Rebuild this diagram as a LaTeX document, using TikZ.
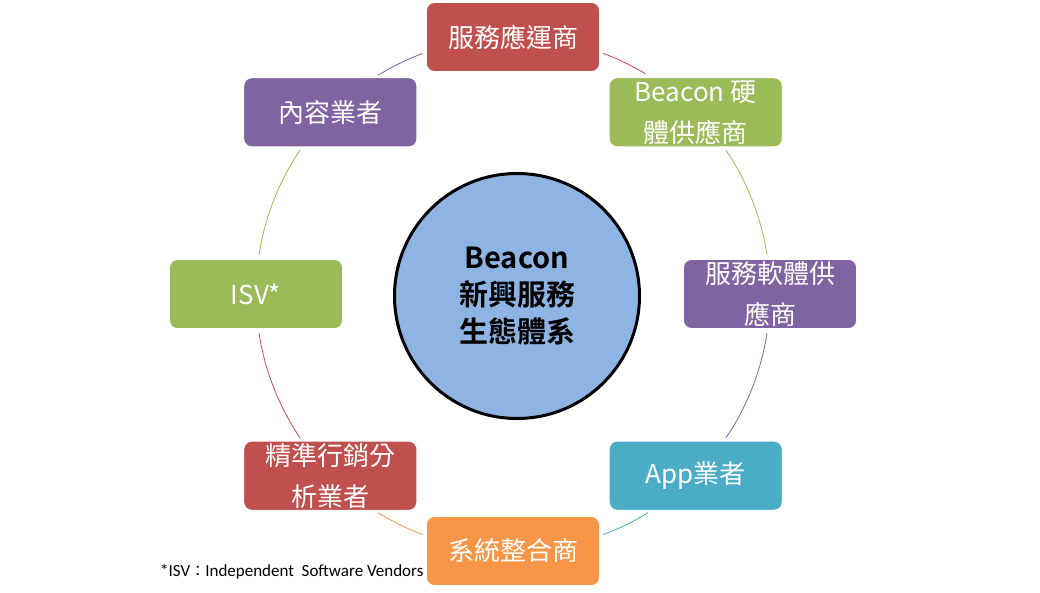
\documentclass[tikz,border=0pt]{standalone}
\usepackage{fontspec}
\newfontfamily\cjk{Noto Sans CJK TC}
\newfontfamily\cjkb{Noto Sans CJK TC Bold}
\newfontfamily\notefont{Carlito}
\usetikzlibrary{backgrounds}
\definecolor{cred}{HTML}{C0504D}
\definecolor{cgreen}{HTML}{9BBB59}
\definecolor{cpurple}{HTML}{8064A2}
\definecolor{cteal}{HTML}{4BACC6}
\definecolor{corange}{HTML}{F79646}
\definecolor{cblue}{HTML}{8DB4E2}
\tikzset{
  partbox/.style={rectangle, rounded corners=8pt, minimum width=173pt, minimum height=69pt,
    inner sep=0pt, draw=white, line width=0.8pt, text=white, align=center,
    font=\cjk\fontsize{26}{41}\selectfont},
  ringarc/.style={line width=0.8pt},
  hub/.style={circle, draw=black, line width=3pt, fill=cblue, minimum size=245pt, inner sep=0pt,
    align=center, font=\cjkb\fontsize{29}{37}\selectfont}
}
\begin{document}
\begin{tikzpicture}[x=1pt,y=1pt]
\useasboundingbox (0,0) rectangle (1040,592);
\coordinate (ring) at (513,298);
\node[partbox, fill=cred]    (b1) at (513,555)     {服務應運商};
\node[partbox, fill=cgreen]  (b2) at (695.7,479.7) {Beacon 硬\\體供應商};
\node[partbox, fill=cpurple] (b3) at (770,298)     {服務軟體供\\應商};
\node[partbox, fill=cteal]   (b4) at (695.7,116.3) {App業者};
\node[partbox, fill=corange] (b5) at (513,41)      {系統整合商};
\node[partbox, fill=cred]    (b6) at (330.3,116.3) {精準行銷分\\析業者};
\node[partbox, fill=cgreen]  (b7) at (256,298)     {ISV*};
\node[partbox, fill=cpurple] (b8) at (330.3,479.7) {內容業者};
\node[hub] (hub) at (517,296) {Beacon\\新興服務\\生態體系};
\node[anchor=base west, inner sep=0pt, font=\notefont\fontsize{17}{20}\selectfont] (note) at (160,16)
  {*ISV{\cjk\fontsize{15}{20}\selectfont ：}Independent\ \ Software Vendors};
\begin{scope}[on background layer]
  \draw[ringarc, cred]    (ring) ++(69.5:257)   arc[start angle=69.5,   end angle=59,     radius=257];
  \draw[ringarc, cgreen]  (ring) ++(34:257)     arc[start angle=34,     end angle=8.7,    radius=257];
  \draw[ringarc, cpurple] (ring) ++(-8.7:257)   arc[start angle=-8.7,   end angle=-34,    radius=257];
  \draw[ringarc, cteal]   (ring) ++(-58.3:257)  arc[start angle=-58.3,  end angle=-69.4,  radius=257];
  \draw[ringarc, corange] (ring) ++(-110.6:257) arc[start angle=-110.6, end angle=-121.7, radius=257];
  \draw[ringarc, cred]    (ring) ++(-146:257)   arc[start angle=-146,   end angle=-171.3, radius=257];
  \draw[ringarc, cgreen]  (ring) ++(171.3:257)  arc[start angle=171.3,  end angle=146,    radius=257];
  \draw[ringarc, cpurple] (ring) ++(121.7:257)  arc[start angle=121.7,  end angle=110.6,  radius=257];
\end{scope}
\end{tikzpicture}
\end{document}
